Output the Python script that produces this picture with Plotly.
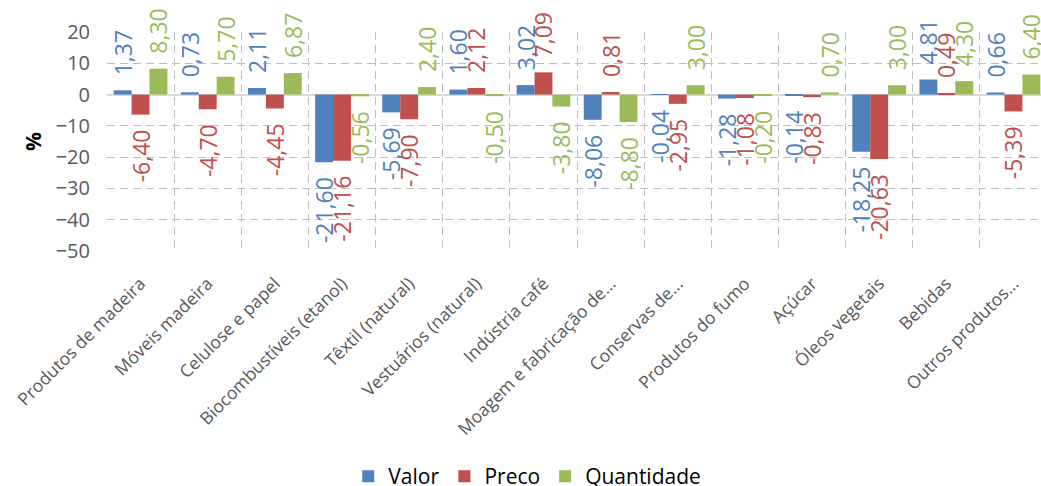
import plotly.graph_objects as go

categorias = [
    "Produtos de madeira", "Móveis madeira", "Celulose e papel",
    "Biocombustíveis (etanol)", "Têxtil (natural)", "Vestuários (natural)",
    "Indústria café", "Moagem e fabricação de...", "Conservas de...",
    "Produtos do fumo", "Açúcar", "Óleos vegetais", "Bebidas",
    "Outros produtos...",
]
valor = [1.37, 0.73, 2.11, -21.60, -5.69, 1.60, 3.02, -8.06, -0.04, -1.28, -0.14, -18.25, 4.81, 0.66]
preco = [-6.40, -4.70, -4.45, -21.16, -7.90, 2.12, 7.09, 0.81, -2.95, -1.08, -0.83, -20.63, 0.49, -5.39]
quantidade = [8.30, 5.70, 6.87, -0.56, 2.40, -0.50, -3.80, -8.80, 3.00, -0.20, 0.70, 3.00, 4.30, 6.40]

series = [
    ("Valor", valor, "#4F81BD"),
    ("Preco", preco, "#C0504D"),
    ("Quantidade", quantidade, "#9BBB59"),
]

FONT = "Open Sans"
PAD = "\u00a0\u00a0"  # keeps the rotated labels a little away from the bar ends
GRID_DASH = "8px,5px"


def rotulo(v):
    s = f"{v:.2f}".replace(".", ",")
    # rotated text reads upward: pad the end that faces the bar
    return PAD + s if v >= 0 else s + PAD


fig = go.Figure()
for nome, valores, cor in series:
    fig.add_trace(go.Bar(
        name=nome,
        x=categorias,
        y=valores,
        marker=dict(color=cor, line=dict(width=0)),
        text=[rotulo(v) for v in valores],
        textposition="outside",
        textangle=-90,
        textfont=dict(family=FONT, size=23, color=cor),
        constraintext="none",
        cliponaxis=False,
    ))

fig.update_layout(
    width=1041,
    height=486,
    barmode="group",
    bargap=0.2,
    bargroupgap=0,
    plot_bgcolor="white",
    paper_bgcolor="white",
    margin=dict(l=107, r=0, t=31.5, b=235, autoexpand=False),
    font=dict(family=FONT, color="#595959"),
    showlegend=True,
    legend=dict(
        orientation="h",
        x=0.45, xanchor="center",
        y=-1.03, yanchor="middle",
        font=dict(family=FONT, size=21, color="#000000"),
        itemsizing="constant",
        traceorder="normal",
    ),
    uniformtext=dict(mode=False),
)

fig.update_xaxes(
    type="category",
    range=[-0.5, 13.41],
    tickson="boundaries",
    ticks="",
    showgrid=True,
    gridcolor="#BFBFBF",
    griddash=GRID_DASH,
    gridwidth=1.3,
    tickangle=-45,
    tickfont=dict(family=FONT, size=17.5, color="#595959"),
    ticklabelstandoff=18,
    showline=False,
    zeroline=False,
    automargin=False,
)

fig.update_yaxes(
    range=[-50, 20],
    dtick=10,
    tick0=0,
    showgrid=True,
    gridcolor="#BFBFBF",
    griddash=GRID_DASH,
    gridwidth=1.3,
    zeroline=True,
    zerolinecolor="#D9D9D9",
    zerolinewidth=2,
    ticks="",
    tickfont=dict(family=FONT, size=20, color="#595959"),
    ticklabelstandoff=16,
    title=dict(text="<b>%</b>", font=dict(family=FONT, size=21, color="#000000"), standoff=8),
    showline=False,
    automargin=False,
)

fig.write_html("out.html")
